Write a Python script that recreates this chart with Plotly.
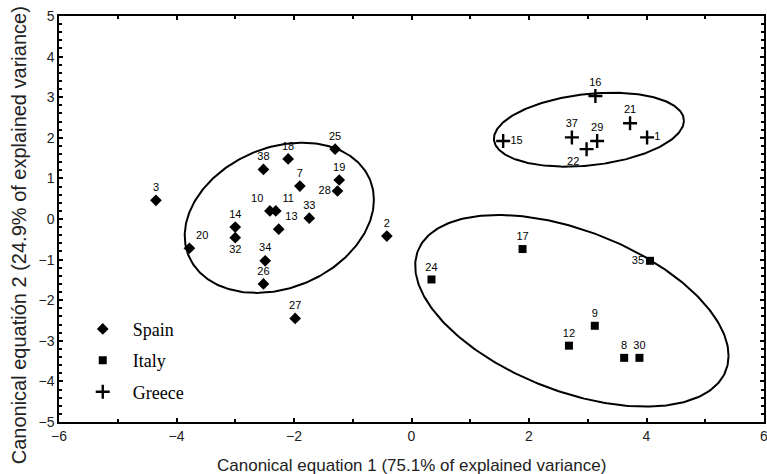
import numpy as np
import plotly.graph_objects as go

# ---------------- data ----------------
spain_ids = ["25", "18", "38", "7", "19", "28", "3", "10", "11", "33", "13", "14", "32", "2", "20", "34", "26", "27"]
spain_x = [-1.30, -2.10, -2.52, -1.90, -1.23, -1.26, -4.35, -2.41, -2.31, -1.74, -2.26, -3.00, -3.00, -0.42, -3.78, -2.49, -2.52, -1.98]
spain_y = [1.72, 1.48, 1.22, 0.81, 0.96, 0.69, 0.46, 0.20, 0.20, 0.02, -0.25, -0.20, -0.46, -0.42, -0.72, -1.03, -1.60, -2.45]
spain_pos = ["top center", "top center", "top center", "top center", "top center", "middle left", "top center",
             "top left", "top right", "top center", "top right", "top center", "bottom center", "top center",
             "top right", "top center", "top center", "top center"]

italy_ids = ["17", "35", "24", "9", "12", "8", "30"]
italy_x = [1.89, 4.06, 0.34, 3.12, 2.68, 3.62, 3.88]
italy_y = [-0.74, -1.03, -1.49, -2.63, -3.12, -3.42, -3.42]
italy_pos = ["top center", "middle left", "top center", "top center", "top center", "top center", "top center"]

greece_ids = ["16", "21", "37", "29", "15", "1", "22"]
greece_x = [3.13, 3.72, 2.73, 3.16, 1.56, 4.01, 2.98]
greece_y = [3.03, 2.36, 2.01, 1.92, 1.92, 2.01, 1.72]
greece_pos = ["top center", "top center", "top center", "top center", "middle right", "middle right", "bottom left"]

# confidence ellipses: centre x, centre y, sd x, sd y, correlation
ellipse_names = ["Spain", "Italy", "Greece"]
ellipse_cx = [-2.25, 2.73, 3.02]
ellipse_cy = [0.03, -2.26, 2.20]
ellipse_sx = [1.61, 2.667, 1.617]
ellipse_sy = [1.85, 2.36, 0.911]
ellipse_r = [0.24, -0.47, 0.243]

x_title = "Canonical equation 1 (75.1% of explained variance)"
y_title = "Canonical equatión 2 (24.9% of explained variance)"
x_ticks = [-6, -4, -2, 0, 2, 4, 6]
y_ticks = [-5, -4, -3, -2, -1, 0, 1, 2, 3, 4, 5]

# ---------------- figure ----------------
fig = go.Figure()

t = np.linspace(0, 2 * np.pi, 300)
for cx, cy, sx, sy, r in zip(ellipse_cx, ellipse_cy, ellipse_sx, ellipse_sy, ellipse_r):
    ex = cx + sx * np.cos(t)
    ey = cy + sy * (r * np.cos(t) + np.sqrt(1 - r * r) * np.sin(t))
    fig.add_trace(go.Scatter(x=ex, y=ey, mode="lines", line=dict(color="black", width=2),
                             showlegend=False, hoverinfo="skip"))

label_font = dict(family="Liberation Sans, Arial, sans-serif", size=11, color="black")

fig.add_trace(go.Scatter(x=spain_x, y=spain_y, mode="markers+text", name="Spain",
                         text=spain_ids, textposition=spain_pos, textfont=label_font,
                         marker=dict(symbol="diamond", size=9, color="black"),
                         legendgroup="s"))
fig.add_trace(go.Scatter(x=italy_x, y=italy_y, mode="markers+text", name="Italy",
                         text=italy_ids, textposition=italy_pos, textfont=label_font,
                         marker=dict(symbol="square", size=8, color="black"),
                         legendgroup="i"))
fig.add_trace(go.Scatter(x=greece_x, y=greece_y, mode="markers+text", name="Greece",
                         text=greece_ids, textposition=greece_pos, textfont=label_font,
                         marker=dict(symbol="cross-thin", size=10, color="black",
                                     line=dict(color="black", width=2.4)),
                         legendgroup="g"))

axis_common = dict(
    showgrid=False, zeroline=False, showline=True, linecolor="black", linewidth=1.5,
    mirror="ticks", ticks="inside", ticklen=4, tickwidth=1.5, tickcolor="black",
    automargin=False, ticklabeloverflow="allow",
    tickfont=dict(family="Liberation Sans, Arial, sans-serif", size=14, color="#222"),
)

fig.update_layout(
    width=767, height=474,
    margin=dict(l=59, r=3, t=16, b=52),
    paper_bgcolor="white", plot_bgcolor="white",
    xaxis=dict(range=[-6, 6], tickvals=x_ticks, **axis_common,
               minor=dict(dtick=1, ticks="inside", ticklen=3, tickcolor="black", tickwidth=1.5)),
    yaxis=dict(range=[-5, 5], tickvals=y_ticks, **axis_common,
               minor=dict(dtick=0.2, ticks="inside", ticklen=3, tickcolor="black", tickwidth=1.5)),
    legend=dict(x=0.0195, y=0.274, xanchor="left", yanchor="top", bgcolor="rgba(0,0,0,0)",
                font=dict(family="Liberation Serif, Times New Roman, serif", size=18, color="black"),
                tracegroupgap=5, itemwidth=50),
    showlegend=True,
    annotations=[
        dict(text=x_title, xref="paper", yref="paper", x=0.5, y=-0.107, xanchor="center", yanchor="middle",
             showarrow=False, font=dict(family="Liberation Sans, Arial, sans-serif", size=17, color="#222")),
        dict(text=y_title, xref="paper", yref="paper", x=-0.0567, y=0.46, xanchor="center", yanchor="middle",
             textangle=-90, showarrow=False,
             font=dict(family="Liberation Sans, Arial, sans-serif", size=20, color="#222")),
    ],
)

fig.write_html("out.html", config={"displayModeBar": False},
               post_script="document.body.style.margin='0';")
